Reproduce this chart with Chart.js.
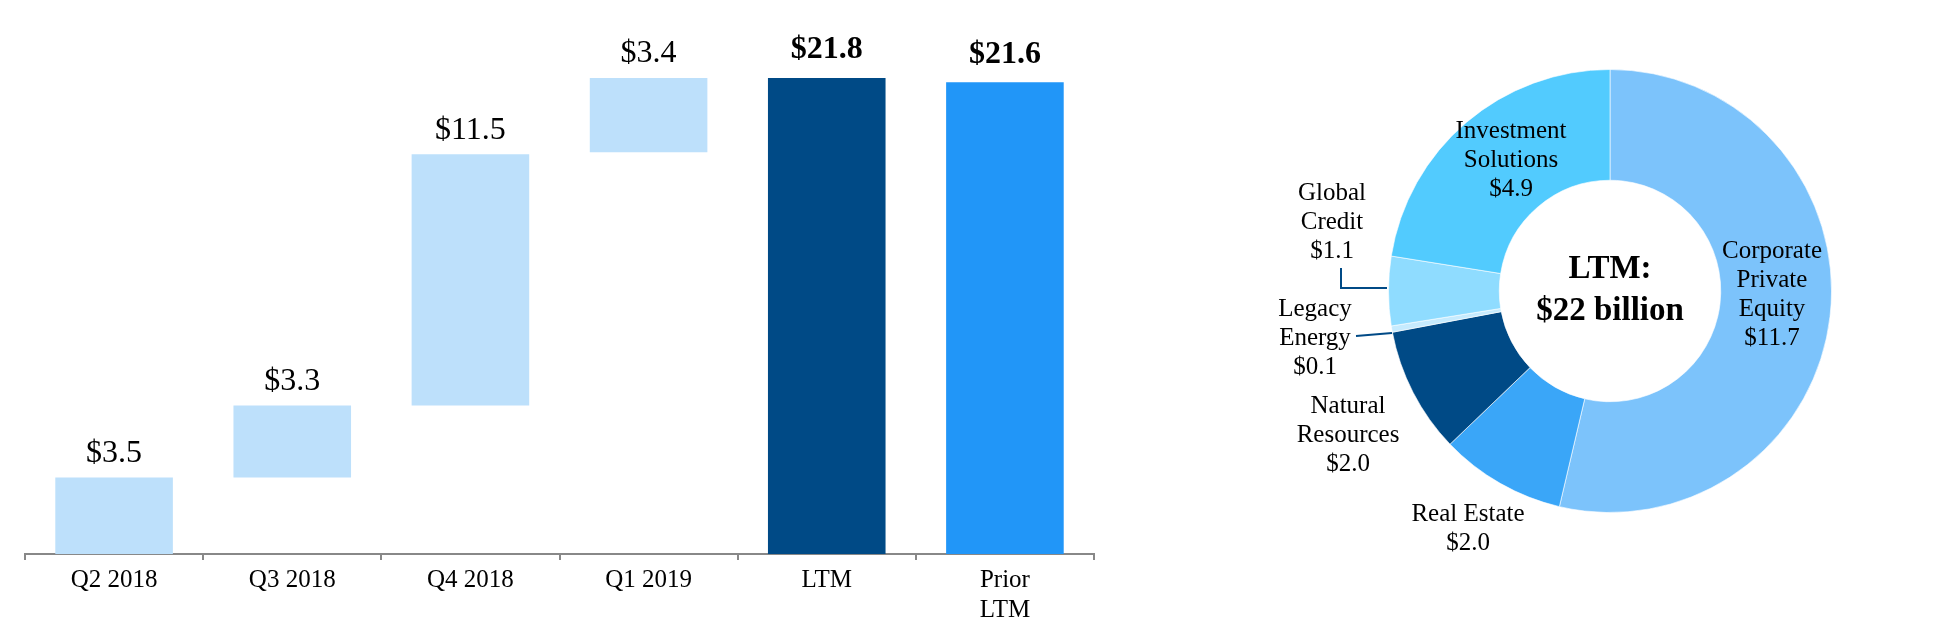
<!DOCTYPE html>
<html>
<head>
<meta charset="utf-8">
<title>LTM chart</title>
<script src="https://cdn.jsdelivr.net/npm/chart.js@4.4.0/dist/chart.umd.min.js"></script>
<style>
  body { margin: 0; background: #fff; }
  #wrap { position: relative; width: 1952px; height: 633px; }
  #barChart { position: absolute; left: 0; top: 0; }
  #pieChart { position: absolute; left: 1100px; top: 0; }
</style>
</head>
<body>
<div id="wrap">
  <canvas id="barChart" width="1100" height="633"></canvas>
  <canvas id="pieChart" width="852" height="633"></canvas>
</div>
<script>
'use strict';
let quarters = ['Q2 2018', 'Q3 2018', 'Q4 2018', 'Q1 2019', 'LTM', ['Prior', 'LTM']];
let amounts = [3.5, 3.3, 11.5, 3.4, 21.8, 21.6];
let bases = [0, 3.5, 6.8, 18.4, 0, 0];
let barColors = ['#bde0fb', '#bde0fb', '#bde0fb', '#bde0fb', '#004a86', '#2196f8'];
let boldBars = [false, false, false, false, true, true];

let segments = [['Corporate', 'Private', 'Equity'], ['Real Estate'], ['Natural', 'Resources'], ['Legacy', 'Energy'], ['Global', 'Credit'], ['Investment', 'Solutions']];
let segmentValues = [11.7, 2.0, 2.0, 0.1, 1.1, 4.9];
let segmentColors = ['#7cc3fb', '#3aa6f8', '#004a86', '#c6ebfe', '#8fdcff', '#52cbfe'];
let centerText = ['LTM:', '$22 billion'];

// where each donut label starts, offset from the donut centre
let labelSpots = [[162, -40], [-142, 223], [-262, 115], [-295, 18], [-278, -98], [-99, -160]];
let leaders = [
    [[-269, -23], [-269, -3], [-223, -3]],
    [[-254, 45], [-218, 42]]
];

let serif = '"Liberation Serif", "Times New Roman", serif';

function money(v) {
    return '$' + v.toFixed(1);
}

let barValueLabels = {
    id: 'barValueLabels',
    afterDatasetsDraw(chart) {
        let ctx = chart.ctx;
        let bars = chart.getDatasetMeta(0).data;
        ctx.save();
        ctx.textAlign = 'center';
        ctx.textBaseline = 'middle';
        ctx.fillStyle = '#000';
        for (let i = 0; i < bars.length; i++) {
            ctx.font = (boldBars[i] ? 'bold ' : '') + '32px ' + serif;
            ctx.fillText(money(amounts[i]), bars[i].x, bars[i].y - (boldBars[i] ? 28 : 24));
        }
        ctx.restore();
    }
};

new Chart(document.getElementById('barChart'), {
    type: 'bar',
    data: {
        labels: quarters,
        datasets: [{
            data: amounts.map((v, i) => [bases[i], bases[i] + v]),
            backgroundColor: barColors,
            borderWidth: 0,
            barPercentage: 0.66,
            categoryPercentage: 1
        }]
    },
    options: {
        responsive: false,
        animation: false,
        devicePixelRatio: 1,
        layout: { padding: { left: 25, right: 6, top: 8, bottom: 0 } },
        plugins: { legend: { display: false }, tooltip: { enabled: false } },
        scales: {
            y: { display: false, min: 0, max: 25 },
            x: {
                afterFit: (scale) => { scale.height = 79; },
                border: { display: true, color: '#888', width: 2 },
                grid: { offset: true, drawOnChartArea: false, drawTicks: true, tickLength: 6, color: '#888', lineWidth: 2 },
                ticks: { color: '#000', padding: 5, font: { family: serif, size: 25, lineHeight: 1.2 } }
            }
        }
    },
    plugins: [barValueLabels]
});

let donutText = {
    id: 'donutText',
    afterDraw(chart) {
        let ctx = chart.ctx;
        let a = chart.chartArea;
        let cx = (a.left + a.right) / 2;
        let cy = (a.top + a.bottom) / 2;
        ctx.save();
        ctx.textAlign = 'center';
        ctx.textBaseline = 'middle';
        ctx.fillStyle = '#000';
        ctx.font = '25px ' + serif;
        for (let i = 0; i < segments.length; i++) {
            let lines = segments[i].concat([money(segmentValues[i])]);
            for (let j = 0; j < lines.length; j++) {
                ctx.fillText(lines[j], cx + labelSpots[i][0], cy + labelSpots[i][1] + j * 29);
            }
        }
        ctx.font = 'bold 33px ' + serif;
        ctx.fillText(centerText[0], cx, cy - 22);
        ctx.fillText(centerText[1], cx, cy + 20);

        ctx.strokeStyle = '#004a86';
        ctx.lineWidth = 2;
        for (let k = 0; k < leaders.length; k++) {
            ctx.beginPath();
            leaders[k].forEach((p, n) => {
                if (n === 0) ctx.moveTo(cx + p[0], cy + p[1]);
                else ctx.lineTo(cx + p[0], cy + p[1]);
            });
            ctx.stroke();
        }
        ctx.restore();
    }
};

new Chart(document.getElementById('pieChart'), {
    type: 'doughnut',
    data: {
        labels: segments.map(s => s.join(' ')),
        datasets: [{
            data: segmentValues,
            backgroundColor: segmentColors,
            borderColor: 'rgba(255,255,255,0.6)',
            borderWidth: 1
        }]
    },
    options: {
        responsive: false,
        animation: false,
        devicePixelRatio: 1,
        cutout: '50%',
        layout: { padding: { left: 288, right: 120, top: 69, bottom: 120 } },
        plugins: { legend: { display: false }, tooltip: { enabled: false } }
    },
    plugins: [donutText]
});
</script>
</body>
</html>
